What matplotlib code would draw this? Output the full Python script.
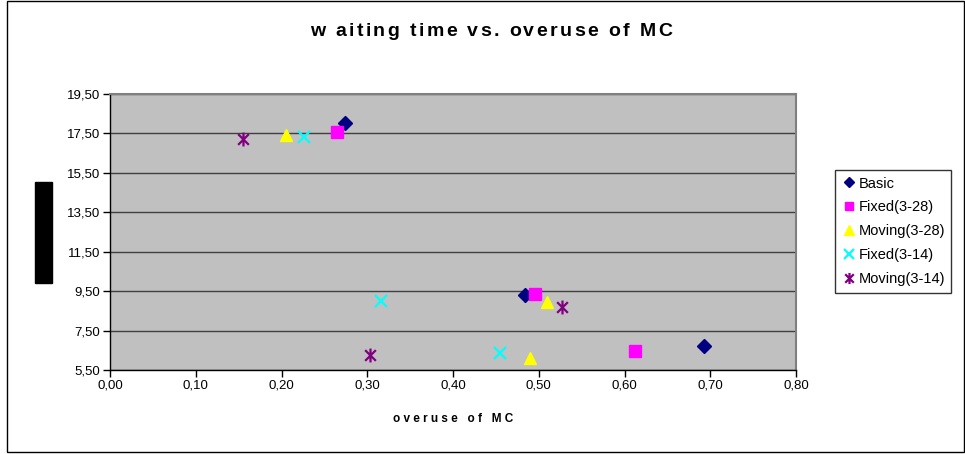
import matplotlib
matplotlib.use("Agg")
import matplotlib.pyplot as plt
from matplotlib.path import Path
from matplotlib.patches import Rectangle
from matplotlib.ticker import FuncFormatter

plt.rcParams['font.family'] = ['Liberation Sans', 'DejaVu Sans']

series_names = ["Basic", "Fixed(3-28)", "Moving(3-28)", "Fixed(3-14)", "Moving(3-14)"]
basic_x = [0.274, 0.484, 0.693]
basic_y = [18.03, 9.31, 6.72]
fixed28_x = [0.265, 0.496, 0.612]
fixed28_y = [17.57, 9.36, 6.47]
moving28_x = [0.205, 0.510, 0.490]
moving28_y = [17.42, 8.95, 6.12]
fixed14_x = [0.226, 0.316, 0.455]
fixed14_y = [17.32, 9.00, 6.37]
moving14_x = [0.155, 0.527, 0.303]
moving14_y = [17.22, 8.72, 6.26]

x_ticks = [0.0, 0.1, 0.2, 0.3, 0.4, 0.5, 0.6, 0.7, 0.8]
y_ticks = [5.5, 7.5, 9.5, 11.5, 13.5, 15.5, 17.5, 19.5]

title_text = "w aiting time vs. overuse of MC"

W, H = 965, 454
fig = plt.figure(figsize=(W / 100, H / 100), dpi=100)
renderer = fig.canvas.get_renderer()


def tracked_text(cx, cy, s, tracking, **kw):
    """Draw a string centred at pixel (cx, cy) with extra spacing between letters."""
    widths = []
    for ch in s:
        t = fig.text(0, 0, ch if ch != " " else "\u00a0", **kw)
        widths.append(t.get_window_extent(renderer).width)
        t.remove()
    total = sum(widths) + tracking * (len(s) - 1)
    x = cx - total / 2
    for ch, w in zip(s, widths):
        if ch != " ":
            fig.text(x / W, 1 - cy / H, ch, ha="left", va="center", **kw)
        x += w + tracking


ax = fig.add_axes([110 / W, 1 - 370 / H, (796 - 110) / W, (370 - 94) / H])
ax.set_facecolor("#C0C0C0")

# asterisk marker: an X crossed by a vertical bar
star = Path([(-1, -1), (1, 1), (-1, 1), (1, -1), (0, -1.3), (0, 1.3)],
            [Path.MOVETO, Path.LINETO, Path.MOVETO, Path.LINETO, Path.MOVETO, Path.LINETO])

styles = [
    dict(marker="D", color="#000080", ms=7, mec="#000080"),
    dict(marker="s", color="#FF00FF", ms=8, mec="#FF00FF"),
    dict(marker="^", color="#FFFF00", ms=9, mec="#FFFF00"),
    dict(marker="x", color="#00FFFF", ms=9, mec="#00FFFF", mew=1.6),
    dict(marker=star, color="#800080", ms=10, mec="#800080", mfc="none", mew=1.6),
]
data = [(basic_x, basic_y), (fixed28_x, fixed28_y), (moving28_x, moving28_y),
        (fixed14_x, fixed14_y), (moving14_x, moving14_y)]

handles = []
for name, (xs, ys), st in zip(series_names, data, styles):
    h, = ax.plot(xs, ys, linestyle="none", label=name, zorder=3, **st)
    handles.append(h)

ax.set_xlim(0, 0.8)
ax.set_ylim(5.5, 19.5)
ax.set_xticks(x_ticks)
ax.set_yticks(y_ticks)
fmt = FuncFormatter(lambda v, p: f"{v:.2f}".replace(".", ","))
ax.xaxis.set_major_formatter(fmt)
ax.yaxis.set_major_formatter(fmt)
ax.yaxis.grid(True, color="#404040", linewidth=1.0)
ax.set_axisbelow(True)
ax.tick_params(direction="out", length=5, width=1, color="black", labelsize=9.5, pad=2)
for side in ["left", "bottom"]:
    ax.spines[side].set_color("black")
    ax.spines[side].set_linewidth(1.0)
for side in ["top", "right"]:
    ax.spines[side].set_color("#808080")
    ax.spines[side].set_linewidth(1.5)

ax.set_xlabel("o v e r u s e   o f   M C", fontsize=8.5, fontweight="bold", labelpad=15)
tracked_text(491, 32, title_text, 2.4, fontsize=14, fontweight="bold")

leg = fig.legend(handles=handles, loc="upper left", bbox_to_anchor=(835 / W, 1 - 170 / H),
                 frameon=True, fancybox=False, fontsize=10.5, handletextpad=0.15,
                 handlelength=1.0, borderpad=0.45, labelspacing=0.68, markerscale=0.8,
                 borderaxespad=0)
leg.get_frame().set_edgecolor("black")
leg.get_frame().set_linewidth(1.0)

# redacted axis title block
fig.patches.append(Rectangle((35 / W, 1 - 283 / H), 17 / W, 101 / H,
                             transform=fig.transFigure, color="black", zorder=5))
# chart area border
fig.patches.append(Rectangle((7 / W, 2 / H), (W - 8) / W, (H - 3) / H, transform=fig.transFigure,
                             fill=False, edgecolor="black", linewidth=1.0))

fig.savefig("out.png", dpi=100)
